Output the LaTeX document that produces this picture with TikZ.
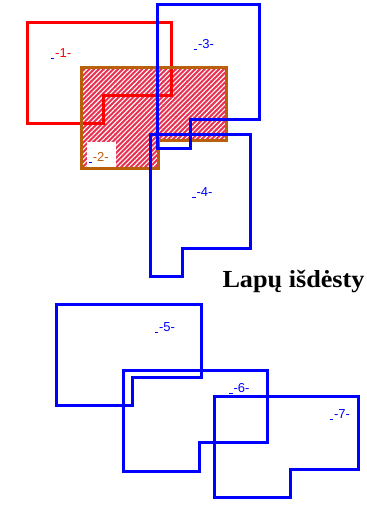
\documentclass[tikz,border=0pt]{standalone}
\usepackage{fontspec}
\setmainfont{Liberation Serif}
\newfontfamily\labfont{Liberation Sans}
\usetikzlibrary{patterns.meta}
\definecolor{hatchred}{RGB}{232,48,80}
\definecolor{brownline}{RGB}{184,96,10}
\newcommand\mylab[2]{{\color{blue}\rule[-1.2pt]{3.5pt}{0.9pt}}\hspace{0.8pt}\textcolor{#1}{-#2-}}
\tikzset{
  outline/.style={line width=3pt, line join=miter},
  redsheet/.style={outline, draw=red},
  bluesheet/.style={outline, draw=blue},
  brownsheet/.style={outline, draw=brownline},
  lab/.style={anchor=base west, inner sep=0pt, font=\labfont\fontsize{13}{15}\selectfont},
}
\begin{document}
\begin{tikzpicture}[x=1pt,y=-1pt]
\useasboundingbox (0,0) rectangle (367,507);
% hatched sheet 2
\fill[hatchred] (81.7,67.7) -- (226.7,67.7) -- (226.7,140) -- (158.3,140) -- (158.3,168.3) -- (81.7,168.3) -- cycle;
\fill[pattern={Lines[angle=45,distance=3.4pt,line width=1.1pt]}, pattern color=white]
  (81.7,67.7) -- (226.7,67.7) -- (226.7,140) -- (158.3,140) -- (158.3,168.3) -- (81.7,168.3) -- cycle;
% sheet 1
\draw[redsheet] (27.7,22.3) -- (171.7,22.3) -- (171.7,95.7) -- (103.3,95.7) -- (103.3,123.3) -- (27.7,123.3) -- cycle;
% sheet 2 border
\draw[brownsheet] (81.7,67.7) -- (226.7,67.7) -- (226.7,140) -- (158.3,140) -- (158.3,168.3) -- (81.7,168.3) -- cycle;
\fill[white] (87.3,141.7) rectangle (115.7,166.7);
% sheets 3, 4
\draw[bluesheet] (157.3,4.3) -- (259.3,4.3) -- (259.3,119.3) -- (190.7,119.3) -- (190.7,148.3) -- (157.3,148.3) -- cycle;
\draw[bluesheet] (150,134) -- (250.7,134) -- (250.7,248.3) -- (182.7,248.3) -- (182.7,276.7) -- (150,276.7) -- cycle;
% sheets 5, 6, 7
\draw[bluesheet] (56.7,304) -- (201.7,304) -- (201.7,377.3) -- (132.7,377.3) -- (132.7,405.7) -- (56.7,405.7) -- cycle;
\draw[bluesheet] (123.3,370) -- (267.7,370) -- (267.7,442.7) -- (199,442.7) -- (199,471.7) -- (123.3,471.7) -- cycle;
\draw[bluesheet] (214.3,396) -- (358.3,396) -- (358.3,469.3) -- (290,469.3) -- (290,497.3) -- (214.3,497.3) -- cycle;
% labels
\node[lab] (l1) at (50.7,57.3) {\mylab{red}{1}};
\node[lab] (l2) at (88.3,161.7) {\mylab{brownline}{2}};
\node[lab] (l3) at (193.5,48.3) {\mylab{blue}{3}};
\node[lab] (l4) at (192,196.7) {\mylab{blue}{4}};
\node[lab] (l5) at (154.5,331.7) {\mylab{blue}{5}};
\node[lab] (l6) at (229,392.7) {\mylab{blue}{6}};
\node[lab] (l7) at (329.5,418.3) {\mylab{blue}{7}};
% title
\node[anchor=base west, inner sep=0pt, font=\bfseries\fontsize{24.5}{28}\selectfont] (title) at (222.3,287) {\scalebox{1.07}[1]{Lapų išdėsty}};
\end{tikzpicture}
\end{document}
